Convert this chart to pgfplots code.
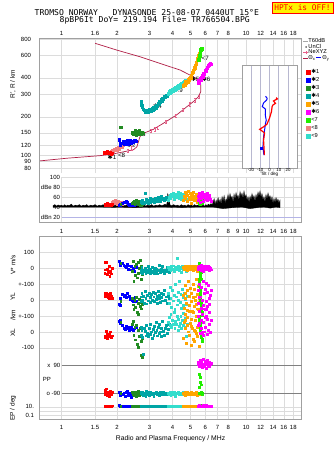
\documentclass[border=0pt]{standalone}
\usepackage{pgfplots}
\pgfplotsset{compat=1.18}
\usepackage{pgfplotstable}
\usepackage{fontspec}
\setmainfont{Liberation Sans}
\newfontfamily\monof{DejaVu Sans Mono}
\newfontfamily\djf{DejaVu Sans}
\definecolor{cRed}{HTML}{FF0000}
\definecolor{cBlue}{HTML}{0000FF}
\definecolor{cDkGreen}{HTML}{228B22}
\definecolor{cTeal}{HTML}{00A5A5}
\definecolor{cOrange}{HTML}{FFA500}
\definecolor{cMagenta}{HTML}{FF00FF}
\definecolor{cBrGreen}{HTML}{22EE00}
\definecolor{cSalmon}{HTML}{F08080}
\definecolor{cTurq}{HTML}{33DDCC}
\definecolor{cCrim}{HTML}{B01E46}
\definecolor{cPink}{HTML}{E8608A}
\definecolor{gridc}{HTML}{DCDCDC}
\definecolor{framec}{HTML}{A0A0A0}
\definecolor{insetgrid}{HTML}{B8B8D0}
\definecolor{bluegrid}{HTML}{B4B4E6}
\definecolor{pplines}{HTML}{808080}
\newcommand\tf{\fontsize{6}{7}\selectfont}
\newcommand\lf{\fontsize{5.7}{6.2}\selectfont}
\newcommand\labf{\fontsize{6.2}{7}\selectfont}
\newcommand\ax{{\djf ✱}}
\pgfdeclareplotmark{Ibar}{%
  \pgfpathmoveto{\pgfqpoint{0pt}{-\pgfplotmarksize}}%
  \pgfpathlineto{\pgfqpoint{0pt}{\pgfplotmarksize}}%
  \pgfpathmoveto{\pgfqpoint{-0.6\pgfplotmarksize}{\pgfplotmarksize}}%
  \pgfpathlineto{\pgfqpoint{0.6\pgfplotmarksize}{\pgfplotmarksize}}%
  \pgfpathmoveto{\pgfqpoint{-0.6\pgfplotmarksize}{-\pgfplotmarksize}}%
  \pgfpathlineto{\pgfqpoint{0.6\pgfplotmarksize}{-\pgfplotmarksize}}%
  \pgfusepathqstroke}

\pgfplotstableread{
f r a v yl xl pp ep
1.72 105 44 -30 25 -25 -85 14
1.73 106 46 40 40 -30 -70 14
1.74 104 45 -10 30 -35 -95 13
1.76 105 47 35 45 5 -60 15
1.77 107 44 -40 20 -40 -100 14
1.78 106 48 -5 35 -15 -90 14
1.80 104 45 -25 15 -30 -80 13
1.81 105 46 10 10 -20 -105 15
1.83 106 47 -50 30 -10 -90 14
1.85 104 44 -20 40 0 -75 14
1.87 103 45 -35 25 -35 -95 13
1.89 104 46 0 12 -25 -85 15
}\tRed
\pgfplotstableread{
f r a
1.86 108 47
1.89 110 50
1.91 107 52
1.94 112 48
1.96 109 54
1.99 114 50
2.01 110 46
2.04 116 53
2.07 112 49
2.10 118 51
2.13 115 47
2.17 120 50
}\tSalmon
\pgfplotstableread{
f r a v yl xl pp ep
2.07 132 45 41 -25 68 -85 16
2.08 125 47 15 -35 55 -100 10
2.09 121 44 25 10 70 -80 14
2.15 124 48 30 35 40 -95 13
2.18 128 50 20 25 25 -90 14
2.21 122 51 10 30 15 -110 13
2.24 126 52 5 15 35 -85 15
2.27 130 50 25 40 20 -75 14
2.30 123 47 -5 20 30 -100 13
2.33 127 45 15 25 10 -90 14
2.36 131 44 -10 5 22 -95 15
2.39 125 46 10 10 28 -115 13
2.42 129 48 -15 -5 18 -88 14
2.46 126 44 0 -8 12 -92 14
2.50 130 45 -18 15 25 -80 15
2.54 128 47 5 -10 30 -96 13
}\tBlue
\pgfplotstableread{
f r a v yl xl pp ep
2.10 165 46 30 -10 60 -90 14
2.42 150 48 -20 10 50 -85 14
2.45 146 51 45 -30 65 -95 13
2.47 152 53 -80 -60 -20 -100 15
2.50 148 47 10 0 30 -80 14
2.52 155 50 -45 -45 -50 -90 13
2.55 144 54 25 15 40 -110 14
2.57 150 49 -60 -75 -80 -85 15
2.60 153 46 35 -20 10 -95 14
2.62 147 52 -30 -90 -95 -75 13
2.65 156 50 0 5 -30 -100 14
2.67 149 45 50 -40 20 -90 15
2.70 152 48 -70 -15 -60 -88 14
2.72 146 44 15 -55 -145 -96 13
2.74 151 47 -10 -25 -160 -92 14
2.76 148 46 -40 -5 -40 -85 14
}\tDkGreen
\pgfplotstableread{
f r a v yl xl pp ep
2.71 262 50 -10 20 30 -90 14
2.72 252 52 -25 -10 -20 -85 13
2.73 244 49 5 40 10 -95 15
2.75 236 55 -30 0 -35 -80 14
2.78 229 51 -15 25 -143 -100 14
2.81 224 48 -20 -20 20 -88 13
2.84 218 68 0 55 5 -92 15
2.87 223 50 -35 10 -25 -110 14
2.90 216 56 -10 -24 40 -78 14
2.93 223 52 -25 30 -10 -95 13
2.96 217 49 10 -5 -30 -85 15
2.99 226 54 -5 45 25 -100 14
3.02 220 58 -30 15 -15 -90 14
3.05 228 51 -15 -15 50 -82 13
3.08 222 53 -20 35 0 -98 15
3.11 230 57 5 0 -40 -87 14
3.14 225 52 -25 50 15 -93 14
3.17 234 55 -10 20 -20 -105 13
3.20 228 50 -30 -10 35 -88 14
3.23 238 59 0 40 -5 -92 15
3.26 233 54 -20 5 60 -84 14
3.29 244 56 -5 25 10 -97 13
3.32 240 52 -35 -20 -25 -90 14
3.35 252 60 -15 55 30 -86 15
3.38 248 55 20 10 -10 -100 14
3.41 262 57 -10 30 45 -90 14
3.44 257 53 -25 -15 0 -80 13
3.47 270 58 -5 45 -30 -95 15
3.50 265 62 -20 15 20 -88 14
3.53 278 56 10 -5 65 -92 14
3.57 272 59 -15 35 5 -85 13
3.61 284 54 -30 60 -20 -98 15
3.65 280 57 -10 0 25 -90 14
3.70 292 61 -20 20 40 -87 14
3.75 288 58 5 -20 -10 -93 13
3.81 300 55 -15 30 15 -90 14
3.86 304 60 -25 10 50 -88 15
}\tTeal
\pgfplotstableread{
f r a v yl xl pp ep
3.80 300 55 5 40 60 -88 14
3.84 314 60 -10 -20 90 -95 13
3.88 304 64 0 80 40 -85 15
3.92 320 58 -15 10 110 -100 14
3.96 310 66 10 -45 30 -90 14
4.00 325 62 -5 60 75 -80 13
4.04 316 69 15 -5 50 -95 15
4.08 331 57 -20 30 120 -90 14
4.12 322 63 0 -60 20 -85 14
4.16 338 67 5 100 65 -105 13
4.20 328 60 -10 20 45 -88 15
4.24 344 65 60 -30 95 -92 14
4.28 334 70 -5 50 10 -90 14
4.32 350 61 10 0 80 -82 13
4.36 340 58 -15 120 35 -98 15
4.40 356 64 0 -15 55 -90 14
4.44 346 68 5 35 100 -86 14
4.48 362 56 -25 -50 25 -94 13
4.52 352 62 10 70 70 -90 15
4.56 368 66 -5 15 40 -84 14
4.60 358 59 0 -35 115 -96 14
4.64 374 63 15 45 60 -90 13
4.68 364 67 -10 5 30 -88 15
4.72 380 60 5 90 85 -92 14
4.76 370 57 -20 -25 -30 -86 14
4.79 384 65 0 25 50 -98 13
}\tTurq
\pgfplotstableread{
f r a v yl xl pp ep
4.58 346 55 5 30 -40 -90 14
4.63 356 62 -10 -50 60 -95 13
4.68 352 70 0 90 20 -85 15
4.70 372 60 -5 40 70 -90 14
4.72 366 58 10 10 110 -100 14
4.76 360 66 -5 -20 -70 -88 14
4.80 374 52 15 60 40 -92 13
4.84 370 64 -15 -65 90 -80 15
4.88 385 72 0 120 0 -96 14
4.92 380 60 5 25 130 -90 14
4.96 394 56 -10 -35 -20 -86 13
5.00 400 68 10 75 55 -94 15
5.04 410 62 -5 -5 -85 -90 14
5.05 395 57 5 -10 35 -90 14
5.08 418 48 0 45 80 -84 14
5.12 430 65 15 -70 25 -98 13
5.16 440 59 -15 100 -45 -90 15
5.20 452 70 5 15 120 -88 14
5.24 468 54 -5 -40 10 -92 14
5.28 480 63 0 65 -60 -86 13
5.30 470 62 0 20 5 -90 14
5.32 496 57 10 0 70 -95 15
5.36 510 67 -10 130 -10 -90 14
5.40 525 61 5 -25 100 -84 14
5.44 545 50 -20 35 30 -100 13
5.48 560 64 0 -55 -30 -90 15
5.52 585 58 10 85 140 -88 14
5.56 600 66 -5 10 50 -92 14
5.60 620 53 0 -15 -90 -86 13
5.64 635 60 15 55 15 -94 15
}\tOrange
\pgfplotstableread{
f r a v yl xl pp ep
5.56 550 50 30 130 100 30 20
5.58 560 53 20 115 90 -90 14
5.60 575 48 10 100 80 -50 15
5.62 590 55 0 85 70 -90 14
5.64 600 51 -10 70 60 -90 16
5.65 615 47 -20 55 50 10 14
5.66 625 54 -30 40 40 -90 13
5.67 635 52 -40 25 30 -20 15
5.68 645 49 -50 10 20 -90 14
5.69 655 56 -60 -5 10 -90 25
5.70 662 50 -70 -20 0 -35 14
5.72 668 53 5 -35 -10 -90 15
5.74 672 48 -15 -50 -20 -90 14
5.76 675 51 -25 -65 -35 -85 16
5.78 670 55 15 -80 -45 -95 14
5.80 660 49 -5 -95 -60 -90 13
}\tBrGreen
\pgfplotstableread{
f r a v yl xl pp ep
5.50 365 55 5 60 100 95 14
5.55 380 62 -10 -20 40 110 15
5.58 360 60 -5 15 55 88 14
5.60 372 68 15 100 130 80 16
5.65 392 50 0 20 -10 120 14
5.70 385 64 -15 -50 70 90 13
5.75 400 58 20 80 20 105 15
5.80 410 70 -5 0 110 75 14
5.83 420 65 10 -55 -5 92 15
5.85 405 52 10 -35 -20 95 16
5.90 430 66 -20 120 60 125 14
5.95 425 60 0 40 0 85 15
6.00 445 56 5 -60 90 100 13
6.05 455 67 -10 70 30 110 14
6.10 450 62 15 -10 140 70 16
6.12 465 58 -5 105 100 115 14
6.15 475 54 0 50 -15 95 14
6.20 480 69 -5 -40 80 120 15
6.25 495 58 10 90 10 90 14
6.30 500 64 -15 10 50 105 13
6.35 510 60 5 -25 120 80 14
6.42 515 57 0 30 -5 95 15
6.48 505 52 -10 60 70 100 14
}\tMagenta

\newcommand\bottomset[2]{%
  \addplot[only marks, mark=square*, mark size=0.95pt, mark options={line width=0pt}, color=#2, forget plot] table[x=f,y expr=\thisrow{v}/100]{#1};
  \addplot[only marks, mark=square*, mark size=0.95pt, mark options={line width=0pt}, color=#2, forget plot] table[x=f,y expr=-2+\thisrow{yl}/100]{#1};
  \addplot[only marks, mark=square*, mark size=0.95pt, mark options={line width=0pt}, color=#2, forget plot] table[x=f,y expr=-4+\thisrow{xl}/100]{#1};
  \addplot[only marks, mark=square*, mark size=0.95pt, mark options={line width=0pt}, color=#2, forget plot] table[x=f,y expr=-6.985+0.00994*\thisrow{pp}]{#1};
  \addplot[only marks, mark=square*, mark size=0.95pt, mark options={line width=0pt}, color=#2, forget plot] table[x=f,y expr=-8.97+0.27*log10(\thisrow{ep})]{#1};
}
\newcommand\toppt[2]{%
  \addplot[only marks, mark=square*, mark size=1.1pt, mark options={line width=0pt}, color=#2, forget plot] table[x=f,y=r]{#1};}
\newcommand\amppt[2]{%
  \addplot[only marks, mark=square*, mark size=0.95pt, mark options={line width=0pt}, color=#2, forget plot] table[x=f,y=a]{#1};}

\begin{document}
\begin{tikzpicture}
\useasboundingbox (0,0) rectangle (335pt,-451pt);

\node[anchor=west, font=\monof\fontsize{8.1}{9}\selectfont, inner sep=0pt] at (34.5pt,-12.3pt)
  {TROMSO NORWAY\ \ \ DYNASONDE 25-08-07 0440UT 15°E};
\node[anchor=west, font=\monof\fontsize{8.1}{9}\selectfont, inner sep=0pt] at (59.5pt,-20.3pt)
  {8pBP6It DoY= 219.194 File= TR766504.BPG};
\node[draw=red, fill=yellow, text=red, line width=0.8pt, font=\monof\fontsize{7.8}{8}\selectfont,
  inner sep=0pt, minimum width=61pt, minimum height=11pt] at (302.5pt,-7.6pt) {HPTx is OFF!};

% ---------------- top panel: virtual height ----------------
\begin{axis}[scale only axis, xmode=log, xmin=0.76, xmax=20,
  axis line style={draw=none},
  major tick length=0pt, minor tick length=0pt,
  tick label style={font=\tf}, grid style={draw=gridc, line width=0.5pt},
  at={(39.5pt,-38.5pt)}, anchor=north west, width=262.2pt, height=134.5pt,
  ymode=log, ymin=73.4, ymax=807,
  xtick={1,1.52,2,3,4,5,6,7,8,10,12,14,16,18},
  xticklabels={1,1.6,2,3,4,5,6,7,8,10,12,14,16,18},
  xticklabel pos=upper, xticklabel style={yshift=-0.5pt},
  ytick={80,90,100,120,150,200,300,400,600,800},
  yticklabels={80,90,100,120,150,200,300,400,600,800},
  yticklabel style={xshift=-5pt},
  xmajorgrids, ymajorgrids,
  legend style={at={(1.003,1.007)}, anchor=north west, draw=none, fill=none, font=\lf,
    inner sep=0pt, row sep=-1pt, nodes={inner sep=0.6pt}},
  legend cell align=left,
]
\addlegendimage{legend image code/.code={\draw[gray!70, line width=0.7pt] (0pt,0pt) -- (4.5pt,0pt);}}
\addlegendentry{T60dB}
\addlegendimage{legend image code/.code={\fill[black] (3pt,0pt) circle (0.45pt);}}
\addlegendentry{UnCl}
\addlegendimage{legend image code/.code={\draw[cPink, line width=0.5pt] (0pt,0pt) -- (4.5pt,0pt); \draw[cPink, line width=0.5pt] (3pt,-1.6pt) -- (3pt,1.6pt);}}
\addlegendentry{NeXYZ}
\addlegendimage{legend image code/.code={\draw[cCrim, line width=0.7pt] (0pt,0pt) -- (4.5pt,0pt);}}
\addlegendentry{Θ\textsubscript{x}\,{\color{blue}\rule[0.6ex]{5pt}{0.6pt}}\,Θ\textsubscript{y}}

\addplot[cCrim, line width=0.7pt, forget plot] coordinates {
 (0.76,91) (1.067,95.5) (1.617,100) (1.90,103) (2.16,107) (2.45,111) (2.56,117)
 (2.61,128) (2.66,140) (2.78,149) (3.15,160) (3.56,178) (4.21,207) (4.77,239)
 (5.18,262) (5.51,286) (5.68,313) (5.68,352) (5.58,378) (5.18,408) (4.39,460)
 (3.87,488) (2.66,583) (1.99,657) (1.52,741)};
\addplot[cPink, only marks, mark=Ibar, mark size=1.6pt, mark options={line width=0.5pt}, forget plot]
  coordinates {(2.30,109) (2.40,114) (3.06,156) (3.20,160) (3.32,164) (3.68,182) (4.15,204)
  (4.57,228) (4.95,250) (5.30,268) (5.55,284)};

\toppt{\tSalmon}{cSalmon}
\toppt{\tRed}{cRed}
\toppt{\tBlue}{cBlue}
\toppt{\tDkGreen}{cDkGreen}
\toppt{\tTeal}{cTeal}
\toppt{\tTurq}{cTurq}
\toppt{\tOrange}{cOrange}
\toppt{\tMagenta}{cMagenta}
\toppt{\tBrGreen}{cBrGreen}

\node[font=\labf, inner sep=0pt] at (axis cs:1.878,97.7) {\ax1};
\node[font=\labf, inner sep=0pt] at (axis cs:2.115,100) {<8};
\node[font=\labf, inner sep=0pt] at (axis cs:2.38,121) {\ax2};
\node[font=\labf, inner sep=0pt] at (axis cs:2.70,147) {\ax3};
\node[font=\labf, inner sep=0pt] at (axis cs:3.31,240) {\ax4};
\node[font=\labf, inner sep=0pt] at (axis cs:4.34,322) {<9};
\node[font=\labf, inner sep=0pt] at (axis cs:5.29,392) {\ax5};
\node[font=\labf, inner sep=0pt] at (axis cs:6.07,392) {\ax6};
\node[font=\labf, inner sep=0pt] at (axis cs:6.0,565) {<7};
\end{axis}

% ---------------- inset: tilt ----------------
\begin{axis}[at={(241.7pt,-65pt)}, anchor=north west, width=55.6pt, height=102.7pt, scale only axis,
  ymode=log, ymin=80.7, ymax=503, xmin=-30, xmax=30,
  xtick={-20,-10,0,10,20}, xticklabels={-20,-10,0,10,20}, ytick=\empty,
  xmajorgrids, grid style={draw=insetgrid, line width=0.6pt},
  axis line style={draw=framec}, major tick length=0pt,
  axis background/.style={fill=white},
  tick label style={font=\fontsize{4.4}{5}\selectfont},
  xticklabel style={inner sep=0.3pt},
  xlabel={Tilt / deg}, xlabel style={font=\fontsize{4.6}{5}\selectfont, inner sep=0pt, yshift=-0.3pt},
  legend style={at={(1.16,0.966)}, anchor=north west, draw=none, fill=none, font=\lf,
    inner sep=0pt, row sep=1.2pt, nodes={inner sep=0.6pt}},
  legend cell align=left,
]
\addplot[cBlue, line width=1pt, forget plot] coordinates {
 (-4.3,288) (-2.5,278) (-3,270) (-6.4,256) (-7.8,240) (-4.3,229) (-4.6,207) (-3.5,188)
 (-4.3,178) (-5.3,158) (-6.4,140) (-7.1,117) (-6,101)};
\addplot[cBlue, only marks, mark=square*, mark size=1pt, forget plot] coordinates {(-8.9,114)};
\addplot[cRed, line width=1.2pt, forget plot] coordinates {
 (7.1,281) (8.5,275) (4.3,265) (6.4,254) (3.5,246) (2.8,239) (2.1,219) (0,195) (-2.8,175)
 (-6,168) (-10.6,160) (-9,157) (-5.3,150) (-6.4,132) (-6,117) (-5.5,101)};
\addlegendimage{legend image code/.code={\fill[cRed] (0pt,-2pt) rectangle (4pt,2pt);}}
\addlegendentry{\ax1}
\addlegendimage{legend image code/.code={\fill[cBlue] (0pt,-2pt) rectangle (4pt,2pt);}}
\addlegendentry{\ax2}
\addlegendimage{legend image code/.code={\fill[cDkGreen] (0pt,-2pt) rectangle (4pt,2pt);}}
\addlegendentry{\ax3}
\addlegendimage{legend image code/.code={\fill[cTeal] (0pt,-2pt) rectangle (4pt,2pt);}}
\addlegendentry{\ax4}
\addlegendimage{legend image code/.code={\fill[cOrange] (0pt,-2pt) rectangle (4pt,2pt);}}
\addlegendentry{\ax5}
\addlegendimage{legend image code/.code={\fill[cMagenta] (0pt,-2pt) rectangle (4pt,2pt);}}
\addlegendentry{\ax6}
\addlegendimage{legend image code/.code={\fill[cBrGreen] (0pt,-2pt) rectangle (4pt,2pt);}}
\addlegendentry{<7}
\addlegendimage{legend image code/.code={\fill[cSalmon] (0pt,-2pt) rectangle (4pt,2pt);}}
\addlegendentry{<8}
\addlegendimage{legend image code/.code={\fill[cTurq] (0pt,-2pt) rectangle (4pt,2pt);}}
\addlegendentry{<9}
\end{axis}

% ---------------- amplitude panel ----------------
\begin{axis}[scale only axis, xmode=log, xmin=0.76, xmax=20,
  axis line style={draw=none},
  major tick length=0pt, minor tick length=0pt,
  tick label style={font=\tf}, grid style={draw=gridc, line width=0.5pt},
  at={(39.5pt,-177pt)}, anchor=north west, width=262.2pt, height=45pt,
  ymin=11.4, ymax=101,
  ytick={20,40,60,80,100}, yticklabels={dBn 20,40,60,dBe 80,100},
  yticklabel style={xshift=24pt},
  xtick={1,1.52,2,3,4,5,6,7,8,9,10,12,14,16,18},
  xticklabels={1,1.5,2,3,4,5,6,7,8,9,10,12,14,16,18},
  xticklabel style={yshift=-3.5pt},
  xmajorgrids,
]
\addplot[gridc, line width=0.5pt, forget plot] coordinates {(1,100) (20,100)};
\addplot[gridc, line width=0.5pt, forget plot] coordinates {(1,80) (20,80)};
\addplot[gridc, line width=0.5pt, forget plot] coordinates {(1,60) (20,60)};
\addplot[gridc, line width=0.5pt, forget plot] coordinates {(1,40) (20,40)};
\addplot[bluegrid, line width=0.6pt, forget plot] coordinates {(1,20) (20,20)};
\addplot[black, fill=black, line width=0.3pt, forget plot] coordinates {
 (0.90,44) (0.92,46) (0.94,43) (0.96,45) (0.98,44)
 (1.00,45) (1.02,43) (1.04,46) (1.06,43) (1.08,45) (1.10,44) (1.13,47) (1.16,43) (1.19,45)
 (1.22,44) (1.25,46) (1.28,43) (1.31,45) (1.34,44) (1.37,46) (1.40,43) (1.44,45) (1.48,44)
 (1.52,46) (1.56,43) (1.60,45) (1.64,44) (1.68,46) (1.72,43) (1.76,45) (1.80,44) (1.85,46)
 (1.90,43) (1.95,45) (2.00,44) (2.05,46) (2.10,43) (2.16,45) (2.22,44) (2.28,47) (2.34,43)
 (2.40,45) (2.46,44) (2.52,46) (2.58,43) (2.65,45) (2.72,44) (2.79,46) (2.86,43) (2.93,45)
 (3.00,44) (3.08,46) (3.16,43) (3.24,45) (3.32,44) (3.40,46) (3.48,44) (3.56,45) (3.64,47)
 (3.70,44) (3.74,52) (3.76,68) (3.78,66) (3.80,47) (3.84,52) (3.88,45) (3.95,44) (4.05,46)
 (4.15,44) (4.25,45) (4.35,43) (4.45,46) (4.55,44) (4.65,45) (4.75,43) (4.85,46) (4.95,44)
 (5.05,45) (5.15,43) (5.25,46) (5.35,44) (5.45,45) (5.55,44) (5.65,46) (5.75,44) (5.85,45)
 (5.95,43) (6.05,46) (6.15,44) (6.25,47) (6.35,45) (6.45,48) (6.55,46)
 (6.62,50) (6.71,58) (6.79,46) (6.88,55) (6.96,48) (7.05,60) (7.14,50) (7.23,57) (7.32,47)
 (7.41,62) (7.50,52) (7.60,64) (7.69,49) (7.79,58) (7.88,53) (7.98,66) (8.08,55) (8.18,68)
 (8.29,58) (8.39,63) (8.50,50) (8.60,67) (8.71,56) (8.82,70) (8.93,60) (9.04,65) (9.15,55)
 (9.27,72) (9.38,62) (9.50,69) (9.62,58) (9.74,73) (9.86,61) (9.99,66) (10.11,54) (10.24,62)
 (10.37,50) (10.50,63) (10.63,55) (10.76,68) (10.90,58) (11.03,64) (11.17,52) (11.31,66)
 (11.45,58) (11.60,71) (11.74,62) (11.89,73) (12.04,60) (12.19,68) (12.34,55) (12.50,62)
 (12.65,50) (12.81,66) (12.97,57) (13.14,69) (13.30,59) (13.47,64) (13.64,53) (13.81,62)
 (13.98,48) (14.16,58) (14.34,50) (14.52,60) (14.70,52) (14.88,57) (15.07,48) (15.26,55)
 (15.26,40) (14.50,41) (13.50,39) (12.50,41) (11.50,40) (10.50,38) (9.50,41) (8.50,40)
 (7.50,38) (6.60,41) (5.50,41) (4.50,40) (3.50,41) (2.50,40) (1.50,41) (1.00,41) (0.90,41)} -- cycle;
\amppt{\tSalmon}{cSalmon}
\amppt{\tRed}{cRed}
\amppt{\tBlue}{cBlue}
\amppt{\tDkGreen}{cDkGreen}
\amppt{\tTeal}{cTeal}
\amppt{\tTurq}{cTurq}
\amppt{\tOrange}{cOrange}
\amppt{\tBrGreen}{cBrGreen}
\amppt{\tMagenta}{cMagenta}
\end{axis}

% frame shared by the height and amplitude panels
\draw[framec, line width=0.5pt] (39.5pt,-38.5pt) rectangle (301.7pt,-222pt);

% ---------------- lower panel: V*, YL, XL, PP, EP ----------------
\begin{axis}[scale only axis, xmode=log, xmin=0.76, xmax=20,
  axis line style={draw=framec, line width=0.5pt},
  major tick length=0pt, minor tick length=0pt,
  tick label style={font=\tf}, grid style={draw=gridc, line width=0.5pt},
  at={(39.5pt,-236.7pt)}, anchor=north west, width=262.2pt, height=182.3pt,
  ymin=-9.47, ymax=1.994,
  xtick={1,1.52,2,3,4,5,6,7,8,10,12,14,16,18},
  xticklabels={1,1.5,2,3,4,5,6,7,8,10,12,14,16,18},
  xticklabel style={yshift=-2.5pt},
  ytick={1,0,-1,-2,-3,-4,-5,-8.70,-8.97,-9.24},
  yticklabels={100,0,+-100,0,+-100,0,-100,10.,,0.1},
  yticklabel style={xshift=-2pt},
  xmajorgrids, ymajorgrids,
  xlabel={Radio and Plasma Frequency / MHz},
  xlabel style={font=\fontsize{6.8}{8}\selectfont, inner sep=0pt, yshift=-3pt},
]
\addplot[pplines, line width=0.8pt, forget plot] coordinates {(1,-6.09) (20,-6.09)};
\addplot[pplines, line width=0.8pt, forget plot] coordinates {(1,-7.88) (20,-7.88)};
\bottomset{\tRed}{cRed}
\bottomset{\tBlue}{cBlue}
\bottomset{\tDkGreen}{cDkGreen}
\bottomset{\tTeal}{cTeal}
\bottomset{\tTurq}{cTurq}
\bottomset{\tOrange}{cOrange}
\bottomset{\tBrGreen}{cBrGreen}
\bottomset{\tMagenta}{cMagenta}
\node[anchor=east, font=\tf, inner sep=1pt] at (axis cs:1,-6.09) {x\ \ 90};
\node[anchor=east, font=\tf, inner sep=1pt] at (axis cs:1,-7.88) {o -90};
\node[anchor=west, font=\tf, inner sep=0pt] at (axis cs:0.79,-6.96) {PP};
\end{axis}

\node[rotate=90, font=\fontsize{6.5}{7}\selectfont, inner sep=0pt] at (13pt,-84pt) {R', R / km};
\node[rotate=90, font=\fontsize{6.5}{7}\selectfont, inner sep=0pt] at (13pt,-265pt) {V* m/s};
\node[rotate=90, font=\fontsize{6.5}{7}\selectfont, inner sep=0pt] at (13pt,-297pt) {YL};
\node[rotate=90, font=\fontsize{6.5}{7}\selectfont, inner sep=0pt] at (13pt,-315pt) {/km};
\node[rotate=90, font=\fontsize{6.5}{7}\selectfont, inner sep=0pt] at (13pt,-333pt) {XL};
\node[rotate=90, font=\fontsize{6.5}{7}\selectfont, inner sep=0pt] at (13pt,-408pt) {EP / deg};
\end{tikzpicture}
\end{document}
